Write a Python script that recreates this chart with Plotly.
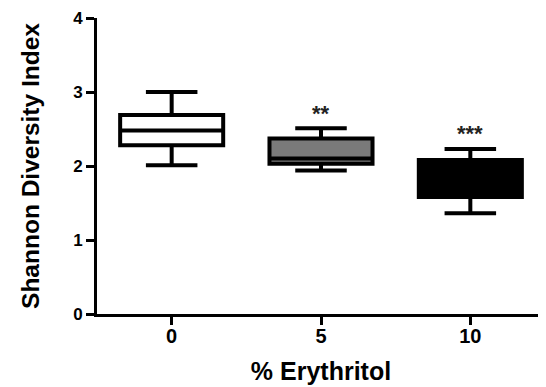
import plotly.graph_objects as go

categories = ["0", "5", "10"]
q1 = [2.28, 2.03, 1.58]
median = [2.48, 2.10, 1.85]
q3 = [2.69, 2.37, 2.08]
lower_fence = [2.01, 1.94, 1.36]
upper_fence = [3.00, 2.51, 2.23]
fill_colors = ["#ffffff", "#7a7a7a", "#000000"]
significance = ["", "**", "***"]

FONT = "Liberation Sans, Arial, sans-serif"

fig = go.Figure()
for i, cat in enumerate(categories):
    fig.add_trace(go.Box(
        x=[i], q1=[q1[i]], median=[median[i]], q3=[q3[i]],
        lowerfence=[lower_fence[i]], upperfence=[upper_fence[i]],
        fillcolor=fill_colors[i], line=dict(color="black", width=4),
        width=0.69, whiskerwidth=0.5, boxpoints=False, showlegend=False,
        hoverinfo="skip",
    ))
    if significance[i]:
        fig.add_annotation(x=i, y=upper_fence[i], yshift=15, text=significance[i],
                           showarrow=False, font=dict(family=FONT, size=22, color="#222"),
                           yanchor="middle")

# page body adds an 8px offset, so margins are shifted to compensate
fig.update_layout(
    width=546, height=387, paper_bgcolor="white", plot_bgcolor="white",
    margin=dict(l=89, r=9, t=10, b=81),
    font=dict(family=FONT, size=16, color="black", weight="bold"),
)
fig.update_xaxes(
    range=[-0.5, 2.5], tickvals=[0, 1, 2], ticktext=categories, automargin=False,
    showline=True, linecolor="black", linewidth=3, ticks="outside",
    ticklen=8, tickwidth=3, tickcolor="black", showgrid=False, zeroline=False,
    tickfont=dict(size=20, weight="bold"), ticklabelstandoff=-6,
    title=dict(text="% Erythritol", font=dict(size=25, weight="bold"), standoff=17),
)
fig.update_yaxes(
    range=[0, 4], tickvals=[0, 1, 2, 3, 4], automargin=False,
    showline=True, linecolor="black", linewidth=3, ticks="outside",
    ticklen=8, tickwidth=3, tickcolor="black", showgrid=False, zeroline=False,
    tickfont=dict(size=17, weight="bold"), ticklabeloverflow="allow",
    title=dict(text="Shannon Diversity Index", font=dict(size=24.5, weight="bold"), standoff=27),
)
fig.write_html("out.html")
